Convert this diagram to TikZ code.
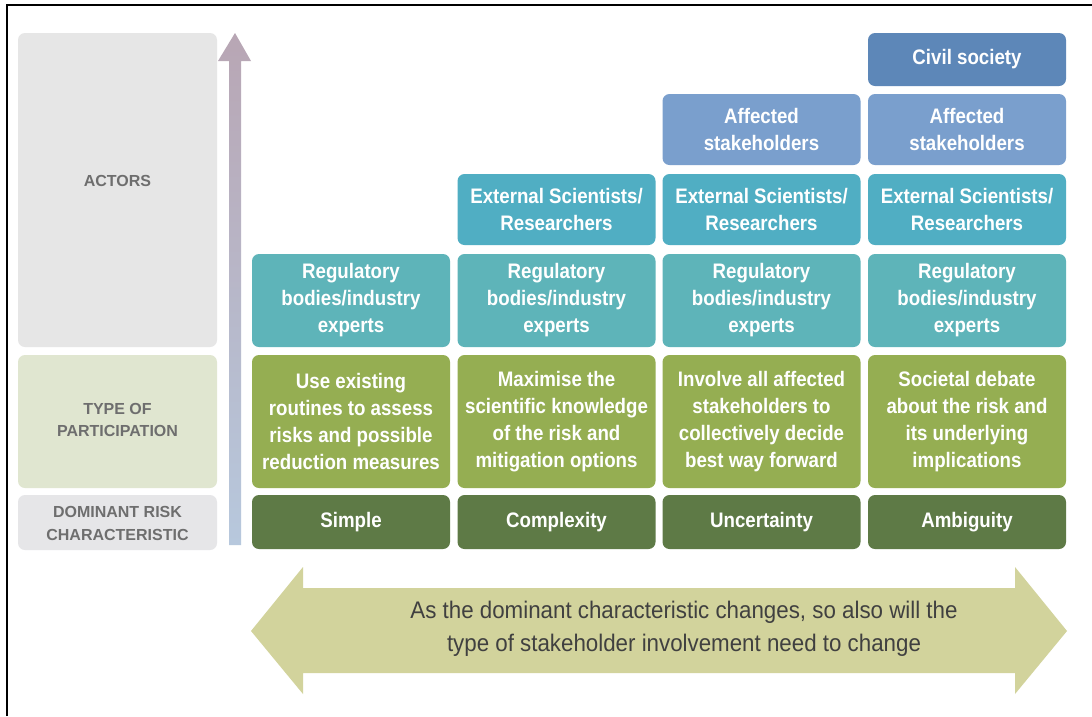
\documentclass[tikz,border=0pt]{standalone}
\usepackage{fontspec}
\setmainfont{Liberation Sans}
\newfontfamily\cond[FakeStretch=0.89]{Liberation Sans}
\newfontfamily\condr[FakeStretch=0.93]{Liberation Sans}
\definecolor{civil}{HTML}{5D87B8}
\definecolor{affected}{HTML}{7A9FCD}
\definecolor{external}{HTML}{50AEC3}
\definecolor{regul}{HTML}{5EB4B9}
\definecolor{olive}{HTML}{95AE52}
\definecolor{darkgr}{HTML}{5E7A46}
\definecolor{sidegray}{HTML}{E6E6E6}
\definecolor{sidegreen}{HTML}{E0E6D0}
\definecolor{sidegray2}{HTML}{E6E6E8}
\definecolor{sidetext}{HTML}{6E6E6E}
\definecolor{bigarrow}{HTML}{D2D39C}
\definecolor{arrtop}{HTML}{B8A6B4}
\definecolor{arrbot}{HTML}{B7C8DD}
\definecolor{arrtext}{HTML}{404040}
\begin{document}
\begin{tikzpicture}[x=1pt,y=-1pt,
  cell/.style={rounded corners=7pt, minimum width=198pt, inner sep=0pt, text=white, align=center,
    font=\cond\bfseries\fontsize{21}{27}\selectfont},
  side/.style={rounded corners=7pt, minimum width=199pt, inner sep=0pt, align=center},
  sidelabel/.style={text=sidetext, align=center, font=\bfseries\fontsize{16}{22.5}\selectfont}]
\useasboundingbox (0,0) rectangle (1092,716);
\fill[white] (0,0) rectangle (1092,716);
\draw[line width=2pt] (6.5,716) -- (6.5,4.5) -- (1092,4.5);

% left side boxes
\node[side, fill=sidegray, minimum height=314pt] (actorsbox) at (117.5,190) {};
\node[sidelabel] (actorslbl) at (117.5,181) {ACTORS};
\node[side, fill=sidegreen, minimum height=133pt] (typebox) at (117.5,421.5) {};
\node[sidelabel] (typelbl) at (117.5,420) {TYPE OF\\PARTICIPATION};
\node[side, fill=sidegray2, minimum height=55pt] (dombox) at (117.5,522.5) {};
\node[sidelabel] (domlbl) at (117.5,523.5) {DOMINANT RISK\\CHARACTERISTIC};

% vertical arrow
\shade[top color=arrtop, bottom color=arrbot]
  (229,545) -- (229,61) -- (218,61) -- (235,33) -- (251,61) -- (241,61) -- (241,545) -- cycle;

% column 1
\node[cell, fill=regul, minimum height=93pt] (reg1) at (351,300.5) {Regulatory\\bodies/industry\\experts};
\node[cell, fill=olive, minimum height=133pt] (par1) at (351,421.5) {Use existing\\routines to assess\\risks and possible\\reduction measures};
\node[cell, fill=darkgr, minimum height=54pt] (dom1) at (351,522) {Simple};
% column 2
\node[cell, fill=external, minimum height=71pt] (ext2) at (556.5,209.5) {External Scientists/\\Researchers};
\node[cell, fill=regul, minimum height=93pt] (reg2) at (556.5,300.5) {Regulatory\\bodies/industry\\experts};
\node[cell, fill=olive, minimum height=133pt] (par2) at (556.5,421.5) {Maximise the\\scientific knowledge\\of the risk and\\mitigation options};
\node[cell, fill=darkgr, minimum height=54pt] (dom2) at (556.5,522) {Complexity};
% column 3
\node[cell, fill=affected, minimum height=71pt] (aff3) at (761.5,129.5) {Affected\\stakeholders};
\node[cell, fill=external, minimum height=71pt] (ext3) at (761.5,209.5) {External Scientists/\\Researchers};
\node[cell, fill=regul, minimum height=93pt] (reg3) at (761.5,300.5) {Regulatory\\bodies/industry\\experts};
\node[cell, fill=olive, minimum height=133pt] (par3) at (761.5,421.5) {Involve all affected\\stakeholders to\\collectively decide\\best way forward};
\node[cell, fill=darkgr, minimum height=54pt] (dom3) at (761.5,522) {Uncertainty};
% column 4
\node[cell, fill=civil, minimum height=53pt] (civ4) at (967,59.5) {Civil society};
\node[cell, fill=affected, minimum height=71pt] (aff4) at (967,129.5) {Affected\\stakeholders};
\node[cell, fill=external, minimum height=71pt] (ext4) at (967,209.5) {External Scientists/\\Researchers};
\node[cell, fill=regul, minimum height=93pt] (reg4) at (967,300.5) {Regulatory\\bodies/industry\\experts};
\node[cell, fill=olive, minimum height=133pt] (par4) at (967,421.5) {Societal debate\\about the risk and\\its underlying\\implications};
\node[cell, fill=darkgr, minimum height=54pt] (dom4) at (967,522) {Ambiguity};

% bottom double arrow
\fill[bigarrow] (251,631) -- (303,567) -- (303,588) -- (1015,588) -- (1015,567) -- (1067,631)
  -- (1015,694) -- (1015,673) -- (303,673) -- (303,694) -- cycle;
\node[text=arrtext, align=center, font=\condr\fontsize{24}{33}\selectfont] (arrlbl) at (684,629)
  {As the dominant characteristic changes, so also will the\\type of stakeholder involvement need to change};
\end{tikzpicture}
\end{document}
